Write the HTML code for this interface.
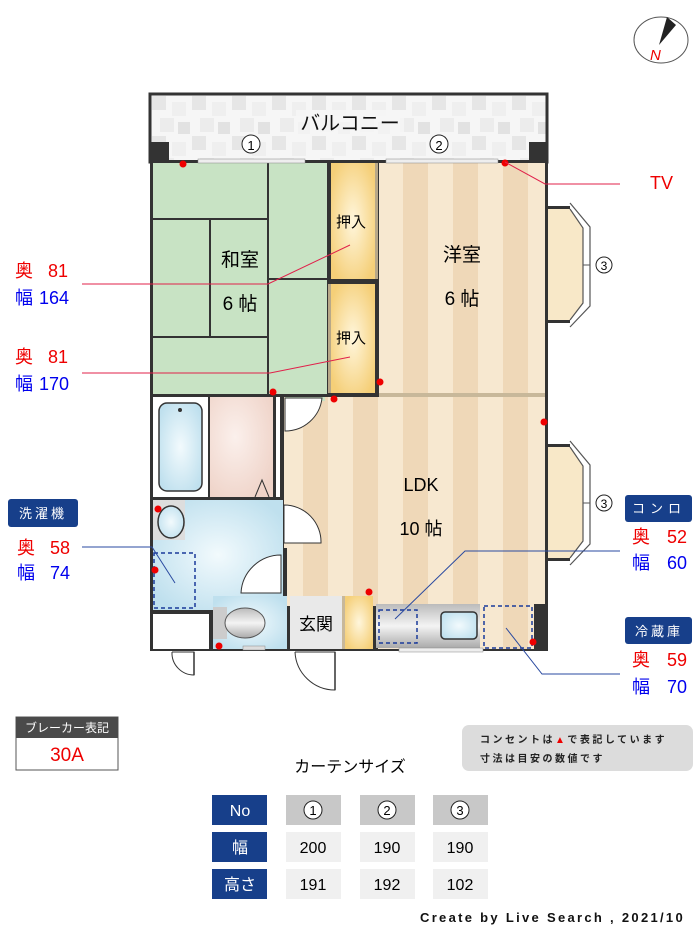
<!DOCTYPE html>
<html><head><meta charset="utf-8">
<style>
html,body{margin:0;padding:0;background:#fff;}
svg{display:block;}
text{font-family:"Liberation Sans","Noto Sans CJK JP",sans-serif;}
</style></head>
<body>
<svg width="700" height="933" viewBox="0 0 700 933" xmlns="http://www.w3.org/2000/svg">
<defs>
<pattern id="tile" width="40" height="40" patternUnits="userSpaceOnUse" x="152" y="96">
<rect width="40" height="40" fill="#f6f6f6"/>
<rect x="0" y="0" width="14" height="14" fill="#e6e6e6"/>
<rect x="20" y="6" width="14" height="14" fill="#efefef"/>
<rect x="8" y="22" width="14" height="14" fill="#ececec"/>
<rect x="26" y="26" width="12" height="12" fill="#e2e2e2"/>
</pattern>
<pattern id="stripe" width="50" height="10" patternUnits="userSpaceOnUse" x="378">
<rect width="50" height="10" fill="#f7e8d0"/>
<rect x="25" width="25" height="10" fill="#efd8b8"/>
</pattern>
<radialGradient id="blue" cx="0.5" cy="0.5" r="0.6"><stop offset="0" stop-color="#f2fafd"/><stop offset="1" stop-color="#bfe0ee"/></radialGradient>
<radialGradient id="yel" cx="0.5" cy="0.5" r="0.6"><stop offset="0" stop-color="#fff6dc"/><stop offset="1" stop-color="#f5cf78"/></radialGradient>
<radialGradient id="pink" cx="0.4" cy="0.4" r="0.7"><stop offset="0" stop-color="#fbf0ec"/><stop offset="1" stop-color="#efd3c8"/></radialGradient>
<linearGradient id="steel" x1="0" y1="0" x2="0" y2="1"><stop offset="0" stop-color="#bbb"/><stop offset="0.5" stop-color="#f4f4f4"/><stop offset="1" stop-color="#aaa"/></linearGradient>
</defs>

<ellipse cx="661" cy="40" rx="27" ry="23" fill="#fff" stroke="#555" stroke-width="1"/>
<polygon points="667,17 676,25 659,45" fill="#222"/>
<text x="650" y="60" font-size="15" fill="#e00" font-style="italic">N</text>

<rect x="150" y="94" width="397" height="68" fill="url(#tile)" stroke="#333" stroke-width="3"/>
<rect x="151" y="142" width="18" height="20" fill="#333"/>
<rect x="529" y="142" width="18" height="20" fill="#333"/>
<rect x="296" y="110" width="108" height="26" fill="#f6f6f6" opacity="0.8"/>
<text x="350" y="130" font-size="20" text-anchor="middle" fill="#111">バルコニー</text>
<circle cx="251" cy="144" r="9" fill="#fff" stroke="#222"/><text x="251" y="150" font-size="13" text-anchor="middle">1</text>
<circle cx="439" cy="144" r="9" fill="#fff" stroke="#222"/><text x="439" y="150" font-size="13" text-anchor="middle">2</text>

<rect x="150" y="160" width="397" height="491" fill="#333"/>

<rect x="153" y="163" width="174" height="231" fill="#c8e3c4"/>
<g stroke="#333" stroke-width="2" fill="none">
<line x1="268" y1="163" x2="268" y2="394"/>
<line x1="153" y1="219" x2="268" y2="219"/>
<line x1="153" y1="337" x2="268" y2="337"/>
<line x1="210" y1="219" x2="210" y2="337"/>
<line x1="268" y1="279" x2="327" y2="279"/>
</g>
<text x="240" y="266" font-size="19" text-anchor="middle">和室</text>
<text x="240" y="310" font-size="19" text-anchor="middle">6 帖</text>

<rect x="331" y="163" width="44" height="116" fill="url(#yel)"/>
<rect x="331" y="284" width="44" height="109" fill="url(#yel)"/>
<rect x="375" y="163" width="3" height="116" fill="#b8a888"/>
<rect x="328" y="284" width="3" height="109" fill="#b8a888"/>
<text x="351" y="227" font-size="15" text-anchor="middle">押入</text>
<text x="351" y="343" font-size="15" text-anchor="middle">押入</text>

<rect x="379" y="163" width="166" height="231" fill="url(#stripe)"/>
<text x="462" y="261" font-size="19" text-anchor="middle">洋室</text>
<text x="462" y="305" font-size="19" text-anchor="middle">6 帖</text>
<rect x="379" y="393" width="166" height="4" fill="#c8b89a"/>

<rect x="284" y="397" width="261" height="209" fill="url(#stripe)"/>
<rect x="378" y="606" width="167" height="43" fill="url(#stripe)"/>
<rect x="285" y="397" width="40" height="4" fill="#c8e3c4"/>
<path d="M285,398 L322,398 A37,37 0 0 1 285,431 Z" fill="#fff" stroke="#333" stroke-width="1"/>
<path d="M284,505 L284,543 L321,543 A37,37 0 0 0 284,505 Z" fill="#fff" stroke="#333" stroke-width="1"/>
<text x="421" y="491" font-size="18" text-anchor="middle">LDK</text>
<text x="421" y="535" font-size="18" text-anchor="middle">10 帖</text>

<rect x="153" y="397" width="55" height="100" fill="#fff"/>
<rect x="159" y="403" width="43" height="88" rx="8" fill="url(#blue)" stroke="#333" stroke-width="1.5"/>
<circle cx="180" cy="410" r="2" fill="#333"/>
<rect x="210" y="397" width="63" height="100" fill="url(#pink)"/>
<polyline points="255,497 262,480 269,497" fill="none" stroke="#333"/>
<rect x="276" y="397" width="4" height="100" fill="#fff"/>

<rect x="153" y="500" width="130" height="110" fill="url(#blue)"/>
<rect x="153" y="500" width="32" height="40" fill="#ddd"/>
<ellipse cx="171" cy="522" rx="13" ry="16" fill="url(#blue)" stroke="#333" stroke-width="1.5"/>
<rect x="154" y="553" width="41" height="55" fill="none" stroke="#1a3a9a" stroke-width="1.5" stroke-dasharray="4,3"/>
<path d="M281,555 L281,593 L241,593 A40,40 0 0 1 281,555 Z" fill="#fff" stroke="#333" stroke-width="1"/>
<rect x="283" y="548" width="4" height="50" fill="#333"/>

<rect x="153" y="614" width="56" height="35" fill="#fff"/>

<rect x="213" y="596" width="74" height="53" fill="url(#blue)"/>
<rect x="213" y="607" width="14" height="32" fill="#ccc"/>
<ellipse cx="245" cy="623" rx="20" ry="15" fill="url(#steel)" stroke="#555"/>
<rect x="243" y="646" width="22" height="4" fill="#ddd" stroke="#888" stroke-width="0.5"/>

<rect x="290" y="596" width="53" height="53" fill="#e9e9e9"/>
<text x="316" y="630" font-size="17" text-anchor="middle">玄関</text>
<rect x="345" y="596" width="28" height="53" fill="url(#yel)"/>
<rect x="342" y="596" width="3" height="53" fill="#c8b89a"/>

<rect x="376" y="604" width="104" height="44" fill="url(#steel)"/>
<rect x="379" y="610" width="38" height="33" fill="none" stroke="#1a3a9a" stroke-width="1.5" stroke-dasharray="4,3"/>
<rect x="441" y="612" width="36" height="27" rx="4" fill="url(#blue)" stroke="#333" stroke-width="1.5"/>
<rect x="484" y="606" width="48" height="42" fill="none" stroke="#1a3a9a" stroke-width="1.5" stroke-dasharray="4,3"/>
<rect x="534" y="604" width="13" height="47" fill="#333"/>
<rect x="399" y="648" width="84" height="4" fill="#eee" stroke="#888" stroke-width="0.5"/>

<rect x="198" y="159" width="107" height="4" fill="#eee" stroke="#888" stroke-width="0.5"/>
<rect x="386" y="159" width="112" height="4" fill="#eee" stroke="#888" stroke-width="0.5"/>

<g>
<rect x="545" y="206" width="25" height="3" fill="#333"/>
<rect x="545" y="320" width="25" height="3" fill="#333"/>
<polygon points="547,209 570,209 583,228 583,303 570,320 547,320" fill="#f8e8c8"/>
<polyline points="570,203 590,227 590,306 570,327" fill="none" stroke="#555" stroke-width="1.2"/>
<polyline points="570,209 583,228 583,303 570,320" fill="none" stroke="#555" stroke-width="1.2"/>
<line x1="583" y1="265" x2="590" y2="265" stroke="#555"/>
<circle cx="604" cy="265" r="8" fill="#fff" stroke="#222"/><text x="604" y="270" font-size="12" text-anchor="middle">3</text>
</g>
<g transform="translate(0,238)">
<rect x="545" y="206" width="25" height="3" fill="#333"/>
<rect x="545" y="320" width="25" height="3" fill="#333"/>
<polygon points="547,209 570,209 583,228 583,303 570,320 547,320" fill="#f8e8c8"/>
<polyline points="570,203 590,227 590,306 570,327" fill="none" stroke="#555" stroke-width="1.2"/>
<polyline points="570,209 583,228 583,303 570,320" fill="none" stroke="#555" stroke-width="1.2"/>
<line x1="583" y1="265" x2="590" y2="265" stroke="#555"/>
<circle cx="604" cy="265" r="8" fill="#fff" stroke="#222"/><text x="604" y="270" font-size="12" text-anchor="middle">3</text>
</g>
<rect x="545" y="160" width="3" height="491" fill="#333"/>

<path d="M172,652 L194,652 L194,675 A22,22 0 0 1 172,652" fill="#fff" stroke="#333" stroke-width="1"/>
<path d="M295,652 L335,652 L335,690 A40,40 0 0 1 295,652" fill="#fff" stroke="#333" stroke-width="1"/>
<line x1="335" y1="652" x2="335" y2="690" stroke="#333" stroke-width="1.5"/>
<line x1="194" y1="652" x2="194" y2="675" stroke="#333" stroke-width="1.5"/>

<g fill="#e00">
<circle cx="183" cy="164" r="3.5"/><circle cx="505" cy="163" r="3.5"/>
<circle cx="273" cy="392" r="3.5"/><circle cx="334" cy="399" r="3.5"/>
<circle cx="380" cy="382" r="3.5"/><circle cx="544" cy="422" r="3.5"/>
<circle cx="158" cy="509" r="3.5"/><circle cx="155" cy="570" r="3.5"/>
<circle cx="219" cy="646" r="3.5"/><circle cx="369" cy="592" r="3.5"/>
<circle cx="533" cy="642" r="3.5"/>
</g>

<g fill="none" stroke-width="1">
<polyline points="82,284 268,284 350,245" stroke="#e0204a"/>
<polyline points="82,373 270,373 350,357" stroke="#e0204a"/>
<polyline points="505,162 545,184 620,184" stroke="#e0204a"/>
<polyline points="82,547 152,547 175,583" stroke="#2a4aa0"/>
<polyline points="620,551 465,551 395,619" stroke="#2a4aa0"/>
<polyline points="506,628 542,674 620,674" stroke="#2a4aa0"/>
</g>

<g font-size="18">
<text x="15" y="277" fill="#e00">奥</text><text x="48" y="277" fill="#e00">81</text>
<text x="15" y="304" fill="#00e">幅</text><text x="39" y="304" fill="#00e">164</text>
<text x="15" y="363" fill="#e00">奥</text><text x="48" y="363" fill="#e00">81</text>
<text x="15" y="390" fill="#00e">幅</text><text x="39" y="390" fill="#00e">170</text>
<text x="17" y="554" fill="#e00">奥</text><text x="50" y="554" fill="#e00">58</text>
<text x="17" y="579" fill="#00e">幅</text><text x="50" y="579" fill="#00e">74</text>
<text x="632" y="543" fill="#e00">奥</text><text x="667" y="543" fill="#e00">52</text>
<text x="632" y="569" fill="#00e">幅</text><text x="667" y="569" fill="#00e">60</text>
<text x="632" y="666" fill="#e00">奥</text><text x="667" y="666" fill="#e00">59</text>
<text x="632" y="693" fill="#00e">幅</text><text x="667" y="693" fill="#00e">70</text>
<text x="650" y="189" fill="#e00">TV</text>
</g>
<rect x="8" y="499" width="70" height="28" rx="3" fill="#173f8a"/>
<text x="43" y="518" font-size="13" fill="#fff" text-anchor="middle" letter-spacing="3">洗濯機</text>
<rect x="625" y="495" width="67" height="27" rx="3" fill="#173f8a"/>
<text x="659" y="513" font-size="13" fill="#fff" text-anchor="middle" letter-spacing="5">コンロ</text>
<rect x="625" y="617" width="67" height="27" rx="3" fill="#173f8a"/>
<text x="659" y="636" font-size="13" fill="#fff" text-anchor="middle" letter-spacing="3">冷蔵庫</text>

<rect x="16" y="717" width="102" height="53" fill="#fff" stroke="#555"/>
<rect x="16" y="717" width="102" height="21" fill="#4a4a4a"/>
<text x="67" y="732" font-size="12" fill="#fff" text-anchor="middle">ブレーカー表記</text>
<text x="67" y="761" font-size="19" fill="#e00" text-anchor="middle">30A</text>

<rect x="462" y="725" width="231" height="46" rx="7" fill="#dcdcdc"/>
<text x="480" y="743" font-size="10" font-weight="bold" fill="#222" letter-spacing="2.5">コンセントは<tspan fill="#e00">▲</tspan>で表記しています</text>
<text x="480" y="762" font-size="10" font-weight="bold" fill="#222" letter-spacing="2.5">寸法は目安の数値です</text>

<text x="350" y="772" font-size="16" text-anchor="middle">カーテンサイズ</text>

<g font-size="16" text-anchor="middle">
<rect x="212" y="795" width="55" height="30" fill="#173f8a"/><text x="240" y="816" fill="#fff">No</text>
<rect x="212" y="832" width="55" height="30" fill="#173f8a"/><text x="240" y="853" fill="#fff">幅</text>
<rect x="212" y="869" width="55" height="30" fill="#173f8a"/><text x="240" y="890" fill="#fff">高さ</text>
<rect x="286" y="795" width="55" height="30" fill="#c8c8c8"/>
<rect x="360" y="795" width="55" height="30" fill="#c8c8c8"/>
<rect x="433" y="795" width="55" height="30" fill="#c8c8c8"/>
<circle cx="313" cy="810" r="9" fill="#fff" stroke="#222"/><text x="313" y="815" font-size="13">1</text>
<circle cx="387" cy="810" r="9" fill="#fff" stroke="#222"/><text x="387" y="815" font-size="13">2</text>
<circle cx="460" cy="810" r="9" fill="#fff" stroke="#222"/><text x="460" y="815" font-size="13">3</text>
<rect x="286" y="832" width="55" height="30" fill="#f0f0f0"/><text x="313" y="853">200</text>
<rect x="360" y="832" width="55" height="30" fill="#f0f0f0"/><text x="387" y="853">190</text>
<rect x="433" y="832" width="55" height="30" fill="#f0f0f0"/><text x="460" y="853">190</text>
<rect x="286" y="869" width="55" height="30" fill="#f0f0f0"/><text x="313" y="890">191</text>
<rect x="360" y="869" width="55" height="30" fill="#f0f0f0"/><text x="387" y="890">192</text>
<rect x="433" y="869" width="55" height="30" fill="#f0f0f0"/><text x="460" y="890">102</text>
</g>

<text x="420" y="922" font-size="13" font-weight="bold" font-family="Liberation Mono, monospace" letter-spacing="2.3" fill="#111">Create by Live Search , 2021/10</text>
</svg>
</body></html>
